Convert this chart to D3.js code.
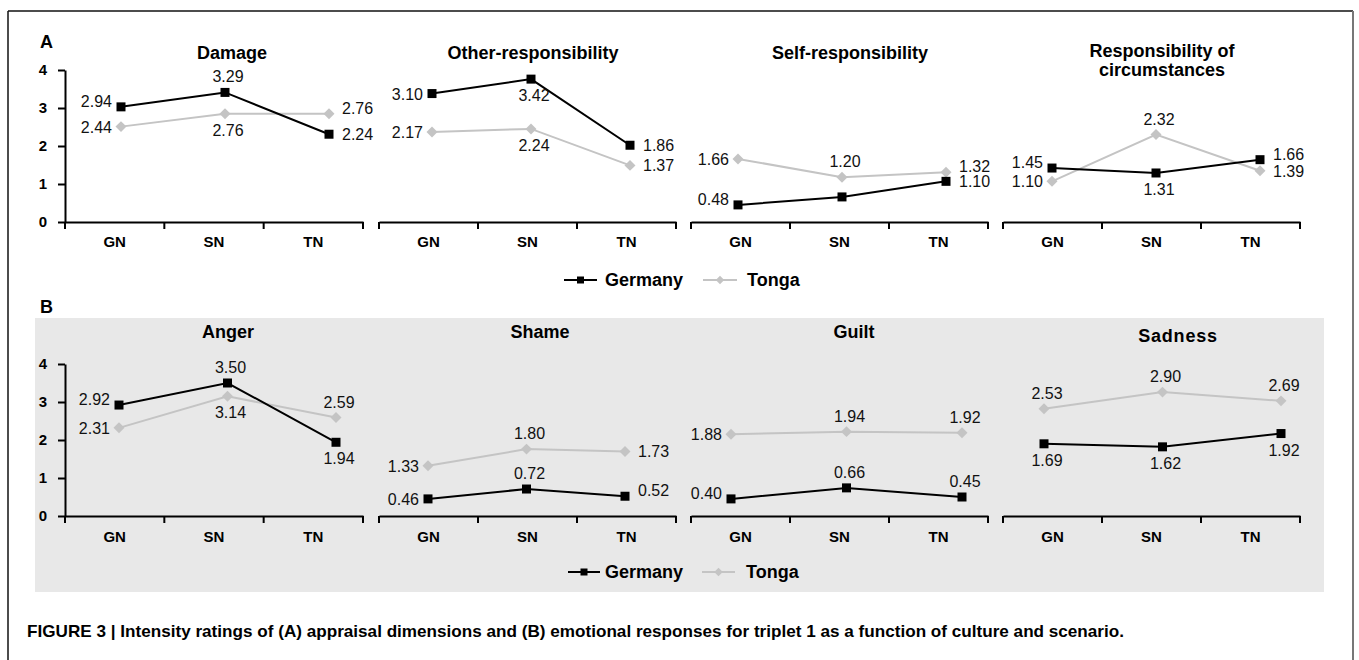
<html>
<head>
<script src="https://d3js.org/d3.v7.min.js"></script>
<style>
body { margin: 0; background: #fff; }
svg { display: block; font-family: "Liberation Sans", Arial, sans-serif; }
</style>
</head>
<body>
<div id="chart"></div>
<script>

// ---- data ----
var scenarios = ["GN", "SN", "TN"];
var yTicks = [0, 1, 2, 3, 4];
var seriesNames = ["Germany", "Tonga"];

var appraisalTitles = [["Damage"], ["Other-responsibility"], ["Self-responsibility"], ["Responsibility of", "circumstances"]];
var emotionTitles = [["Anger"], ["Shame"], ["Guilt"], ["Sadness"]];

// heights of the markers as drawn in the figure
var germanyAppraisal = [[3.03, 3.41, 2.31], [3.38, 3.76, 2.02], [0.45, 0.66, 1.07], [1.42, 1.29, 1.64]];
var tongaAppraisal   = [[2.51, 2.85, 2.85], [2.37, 2.45, 1.49], [1.66, 1.18, 1.31], [1.07, 2.30, 1.35]];
var germanyEmotion   = [[2.92, 3.50, 1.94], [0.45, 0.71, 0.52], [0.45, 0.74, 0.50], [1.90, 1.82, 2.17]];
var tongaEmotion     = [[2.32, 3.15, 2.59], [1.32, 1.76, 1.70], [2.15, 2.22, 2.19], [2.82, 3.26, 3.03]];

// printed value labels
var germanyAppraisalLabels = [["2.94", "3.29", "2.24"], ["3.10", "3.42", "1.86"], ["0.48", "", "1.10"], ["1.45", "1.31", "1.66"]];
var tongaAppraisalLabels   = [["2.44", "2.76", "2.76"], ["2.17", "2.24", "1.37"], ["1.66", "1.20", "1.32"], ["1.10", "2.32", "1.39"]];
var germanyEmotionLabels   = [["2.92", "3.50", "1.94"], ["0.46", "0.72", "0.52"], ["0.40", "0.66", "0.45"], ["1.69", "1.62", "1.92"]];
var tongaEmotionLabels     = [["2.31", "3.14", "2.59"], ["1.33", "1.80", "1.73"], ["1.88", "1.94", "1.92"], ["2.53", "2.90", "2.69"]];

var caption = "FIGURE 3 | Intensity ratings of (A) appraisal dimensions and (B) emotional responses for triplet 1 as a function of culture and scenario.";

// ---- layout ----
var W = 1359, H = 660;
var axisX = [[65, 363], [379, 676], [691, 988], [1003, 1300]];
var pointXA = [[121, 329], [432, 630], [738, 946], [1052, 1260]];
var pointXB = [[119, 336], [428, 625], [731, 962], [1044, 1281]];
var titleXA = [232, 533, 850, 1162];
var titleXB = [228, 540, 854, 1178];

// where each value label sits relative to its marker
var placeGA = [["lu", "t", "r"], ["l", "b", "r"], ["lu", "", "r"], ["lu", "b", "ru"]];
var placeTA = [["l", "b", "ru"], ["l", "b", "r"], ["l", "t", "ru"], ["l", "t", "r"]];
var placeGB = [["lu", "t", "b"], ["l", "t", "ru"], ["lu", "t", "t"], ["b", "b", "b"]];
var placeTB = [["l", "b", "t"], ["l", "t", "r"], ["l", "t", "t"], ["t", "t", "t"]];

var germanyColor = "#000";
var tongaColor = "#c4c4c4";

var svg = d3.select("#chart").append("svg")
	.attr("width", W)
	.attr("height", H);

// frame
svg.append("line").attr("x1", 8).attr("x2", 1353).attr("y1", 11).attr("y2", 11)
	.attr("stroke", "#111").attr("stroke-width", 1.5);
svg.append("line").attr("x1", 8).attr("x2", 8).attr("y1", 11).attr("y2", H)
	.attr("stroke", "#111").attr("stroke-width", 1.5);
svg.append("line").attr("x1", 1353).attr("x2", 1353).attr("y1", 11).attr("y2", H)
	.attr("stroke", "#777").attr("stroke-width", 2);

// grey background of part B
svg.append("rect").attr("x", 35).attr("y", 318).attr("width", 1289).attr("height", 274)
	.attr("fill", "#e8e8e8");

svg.append("text").attr("x", 40).attr("y", 48).text("A")
	.style("font-weight", "bold").style("font-size", "18px");
svg.append("text").attr("x", 40).attr("y", 313).text("B")
	.style("font-weight", "bold").style("font-size", "18px");

var squareSym = d3.symbol().type(d3.symbolSquare);
var diamondSym = d3.symbol().type(d3.symbolSquare);

function labelPos(code, x, y) {
	if (code == "l") return { x: x - 9, y: y + 6, anchor: "end" };
	if (code == "lu") return { x: x - 9, y: y, anchor: "end" };
	if (code == "r") return { x: x + 13, y: y + 6, anchor: "start" };
	if (code == "ru") return { x: x + 13, y: y, anchor: "start" };
	if (code == "t") return { x: x + 3, y: y - 10, anchor: "middle" };
	return { x: x + 3, y: y + 22, anchor: "middle" };
}

function drawRow(opt) {
	var y = d3.scaleLinear().domain([0, 4]).range([opt.y0, opt.y0 - 152]);

	// y axis only on the first panel
	var yAxis = svg.append("g")
		.attr("transform", "translate(" + axisX[0][0] + ",0)")
		.call(d3.axisLeft(y).tickValues(yTicks).tickFormat(d3.format("d"))
			.tickSize(7).tickSizeOuter(0).tickPadding(11));
	yAxis.select(".domain").attr("stroke", "#000").attr("stroke-width", 2);
	yAxis.selectAll(".tick line").attr("stroke", "#000").attr("stroke-width", 2);
	yAxis.selectAll(".tick text")
		.style("font-family", "'Liberation Sans', Arial, sans-serif")
		.style("font-weight", "bold").style("font-size", "15px").attr("fill", "#000");

	for (var p = 0; p < 4; p++) {
		var band = d3.scaleBand().domain(scenarios).range(axisX[p]);
		var px = d3.scalePoint().domain(scenarios).range(opt.pointX[p]);

		// x axis with category labels
		var xAxis = svg.append("g")
			.attr("transform", "translate(0," + opt.y0 + ")")
			.call(d3.axisBottom(band).tickSize(0).tickSizeOuter(0).tickPadding(opt.labelPad));
		xAxis.select(".domain").attr("stroke", "#000").attr("stroke-width", 2);
		xAxis.selectAll(".tick text")
			.style("font-family", "'Liberation Sans', Arial, sans-serif")
			.style("font-weight", "bold").style("font-size", "15px").attr("fill", "#000");

		// boundary ticks pointing down
		var bounds = d3.range(scenarios.length + 1).map(function(i) { return axisX[p][0] + i * band.step(); });
		svg.append("g").selectAll("line")
			.data(bounds)
			.enter().append("line")
			.attr("x1", function(d) { return d; })
			.attr("x2", function(d) { return d; })
			.attr("y1", opt.y0)
			.attr("y2", opt.y0 + 7)
			.attr("stroke", "#000")
			.attr("stroke-width", 2);

		// title
		var multi = opt.titles[p].length > 1;
		var t = svg.append("text")
			.attr("x", opt.titleX[p])
			.attr("y", opt.titleY + (opt.titles[p][0] == "Sadness" ? 4 : 0) - (multi ? 2 : 0))
			.attr("text-anchor", "middle")
			.style("font-weight", "bold").style("font-size", "18px")
			.style("letter-spacing", opt.titles[p][0] == "Sadness" ? "0.8px" : "0px");
		t.selectAll("tspan")
			.data(opt.titles[p])
			.enter().append("tspan")
			.attr("x", opt.titleX[p])
			.attr("dy", function(d, i) { return i == 0 ? 0 : 19; })
			.text(function(d) { return d; });

		var series = [
			{ vals: opt.tonga[p], labels: opt.tongaLabels[p], place: opt.placeT[p], color: tongaColor, diamond: true },
			{ vals: opt.germany[p], labels: opt.germanyLabels[p], place: opt.placeG[p], color: germanyColor, diamond: false }
		];

		series.forEach(function(s) {
			var pts = scenarios.map(function(c, i) { return { x: px(c), y: y(s.vals[i]), label: s.labels[i], place: s.place[i] }; });

			svg.append("path")
				.datum(pts)
				.attr("fill", "none")
				.attr("stroke", s.color)
				.attr("stroke-width", 2)
				.attr("d", d3.line().x(function(d) { return d.x; }).y(function(d) { return d.y; }));

			svg.append("g").selectAll("path")
				.data(pts)
				.enter().append("path")
				.attr("transform", function(d) { return "translate(" + d.x + "," + d.y + ")" + (s.diamond ? " rotate(45)" : ""); })
				.attr("d", s.diamond ? diamondSym.size(60)() : squareSym.size(81)())
				.attr("fill", s.color);

			svg.append("g").selectAll("text")
				.data(pts.filter(function(d) { return d.label != ""; }))
				.enter().append("text")
				.each(function(d) {
					var lp = labelPos(d.place, d.x, d.y);
					d3.select(this).attr("x", lp.x).attr("y", lp.y).attr("text-anchor", lp.anchor);
				})
				.style("font-size", "16px")
				.attr("fill", "#111")
				.text(function(d) { return d.label; });
		});
	}

	// legend
	var lg = svg.append("g");
	var items = [
		{ name: seriesNames[0], color: germanyColor, diamond: false, x1: opt.legend[0], x2: opt.legend[1], tx: opt.legend[2] },
		{ name: seriesNames[1], color: tongaColor, diamond: true, x1: opt.legend[3], x2: opt.legend[4], tx: opt.legend[5] }
	];
	items.forEach(function(it) {
		lg.append("line").attr("x1", it.x1).attr("x2", it.x2).attr("y1", opt.legendY).attr("y2", opt.legendY)
			.attr("stroke", it.color).attr("stroke-width", 2);
		lg.append("path")
			.attr("transform", "translate(" + ((it.x1 + it.x2) / 2) + "," + opt.legendY + ")" + (it.diamond ? " rotate(45)" : ""))
			.attr("d", it.diamond ? diamondSym.size(36)() : squareSym.size(49)())
			.attr("fill", it.color);
		lg.append("text").attr("x", it.tx).attr("y", opt.legendY + 6)
			.style("font-weight", "bold").style("font-size", "18px")
			.text(it.name);
	});
}

drawRow({
	y0: 222, titleY: 59, titles: appraisalTitles, titleX: titleXA, pointX: pointXA, labelPad: 14,
	germany: germanyAppraisal, tonga: tongaAppraisal,
	germanyLabels: germanyAppraisalLabels, tongaLabels: tongaAppraisalLabels,
	placeG: placeGA, placeT: placeTA,
	legendY: 280, legend: [564, 597, 605, 703, 737, 747]
});

drawRow({
	y0: 516, titleY: 338, titles: emotionTitles, titleX: titleXB, pointX: pointXB, labelPad: 15,
	germany: germanyEmotion, tonga: tongaEmotion,
	germanyLabels: germanyEmotionLabels, tongaLabels: tongaEmotionLabels,
	placeG: placeGB, placeT: placeTB,
	legendY: 572, legend: [568, 600, 605, 702, 735, 746]
});

svg.append("text")
	.attr("x", 27).attr("y", 637)
	.attr("textLength", 1097).attr("lengthAdjust", "spacingAndGlyphs")
	.style("font-family", "'Liberation Sans Narrow', 'Liberation Sans', Arial, sans-serif")
	.style("font-weight", "bold").style("font-size", "17px")
	.text(caption);

</script>
</body>
</html>
